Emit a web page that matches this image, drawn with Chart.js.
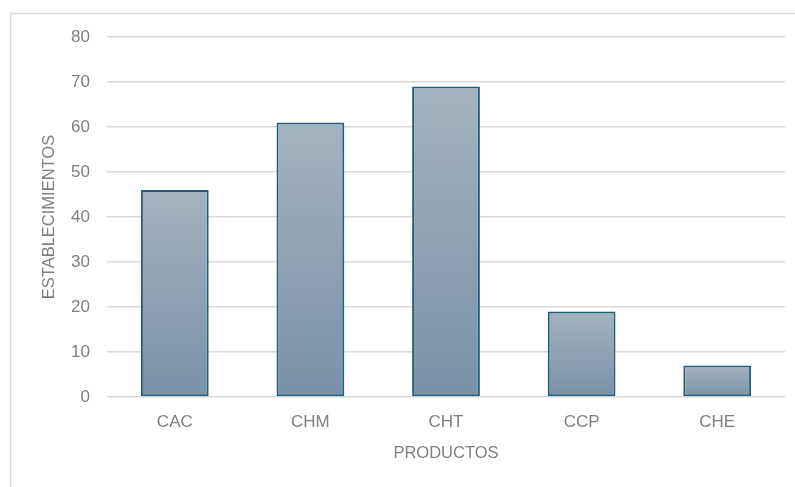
<!DOCTYPE html>
<html>
<head>
<meta charset="utf-8">
<script src="https://cdn.jsdelivr.net/npm/chart.js@4/dist/chart.umd.min.js"></script>
<style>
  html, body { margin: 0; padding: 0; background: #ffffff; }
  #wrap { position: relative; width: 795px; height: 487px; }
</style>
</head>
<body>
<div id="wrap"><canvas id="c" width="795" height="487"></canvas></div>
<script>
const categories = ['CAC', 'CHM', 'CHT', 'CCP', 'CHE'];
const establecimientos = [46, 61, 69, 19, 7];
const yTicks = [0, 10, 20, 30, 40, 50, 60, 70, 80];
const xTitle = 'PRODUCTOS';
const yTitle = 'ESTABLECIMIENTOS';

const FONT = "'Liberation Sans', Arial, sans-serif";
const TEXT = '#7f7f7f';

const frame = {
  id: 'frame',
  beforeDraw(chart) {
    const ctx = chart.ctx;
    ctx.save();
    ctx.fillStyle = '#ffffff';
    ctx.fillRect(0, 0, chart.width, chart.height);
    ctx.strokeStyle = '#d9d9d9';
    ctx.lineWidth = 1.5;
    ctx.beginPath();
    ctx.moveTo(10.5, chart.height);
    ctx.lineTo(10.5, 13.5);
    ctx.lineTo(chart.width, 13.5);
    ctx.stroke();
    ctx.restore();
  }
};

function barGradient(context) {
  const chart = context.chart;
  const ys = chart.scales.y;
  if (!ys || !chart.chartArea || context.type !== 'data') return '#8ca0b3';
  const v = context.parsed ? context.parsed.y : context.raw;
  const top = ys.getPixelForValue(v);
  const base = ys.getPixelForValue(0);
  if (!isFinite(top) || !isFinite(base) || top === base) return '#8ca0b3';
  const g = chart.ctx.createLinearGradient(0, top, 0, base);
  g.addColorStop(0, '#a3b3c1');
  g.addColorStop(1, '#7991a7');
  return g;
}

new Chart(document.getElementById('c'), {
  type: 'bar',
  data: {
    labels: categories,
    datasets: [{
      label: yTitle,
      data: establecimientos,
      backgroundColor: barGradient,
      borderColor: '#215e7e',
      borderWidth: 2,
      borderSkipped: false,
      categoryPercentage: 1,
      barPercentage: 0.5
    }]
  },
  options: {
    responsive: false,
    animation: false,
    devicePixelRatio: 1,
    layout: { padding: { left: 40, right: 10, top: 37, bottom: 24 } },
    plugins: { legend: { display: false }, tooltip: { enabled: false } },
    scales: {
      x: {
        grid: { display: false, drawTicks: false },
        border: { display: false },
        ticks: { color: TEXT, font: { family: FONT, size: 17 }, padding: 15 },
        title: { display: true, text: xTitle, color: TEXT, font: { family: FONT, size: 16.5 }, padding: 0 },
        afterFit(s) { s.height = 66; }
      },
      y: {
        min: 0, max: 80,
        grid: { color: '#d9d9d9', lineWidth: 1.5, drawTicks: false },
        border: { display: false },
        afterBuildTicks(s) { s.ticks = yTicks.map(v => ({ value: v })); },
        ticks: { color: TEXT, font: { family: FONT, size: 17 }, padding: 17 },
        title: { display: true, text: yTitle, color: TEXT, font: { family: FONT, size: 16.5 }, padding: 0 },
        afterFit(s) { s.width = 67; }
      }
    }
  },
  plugins: [frame]
});
</script>
</body>
</html>
